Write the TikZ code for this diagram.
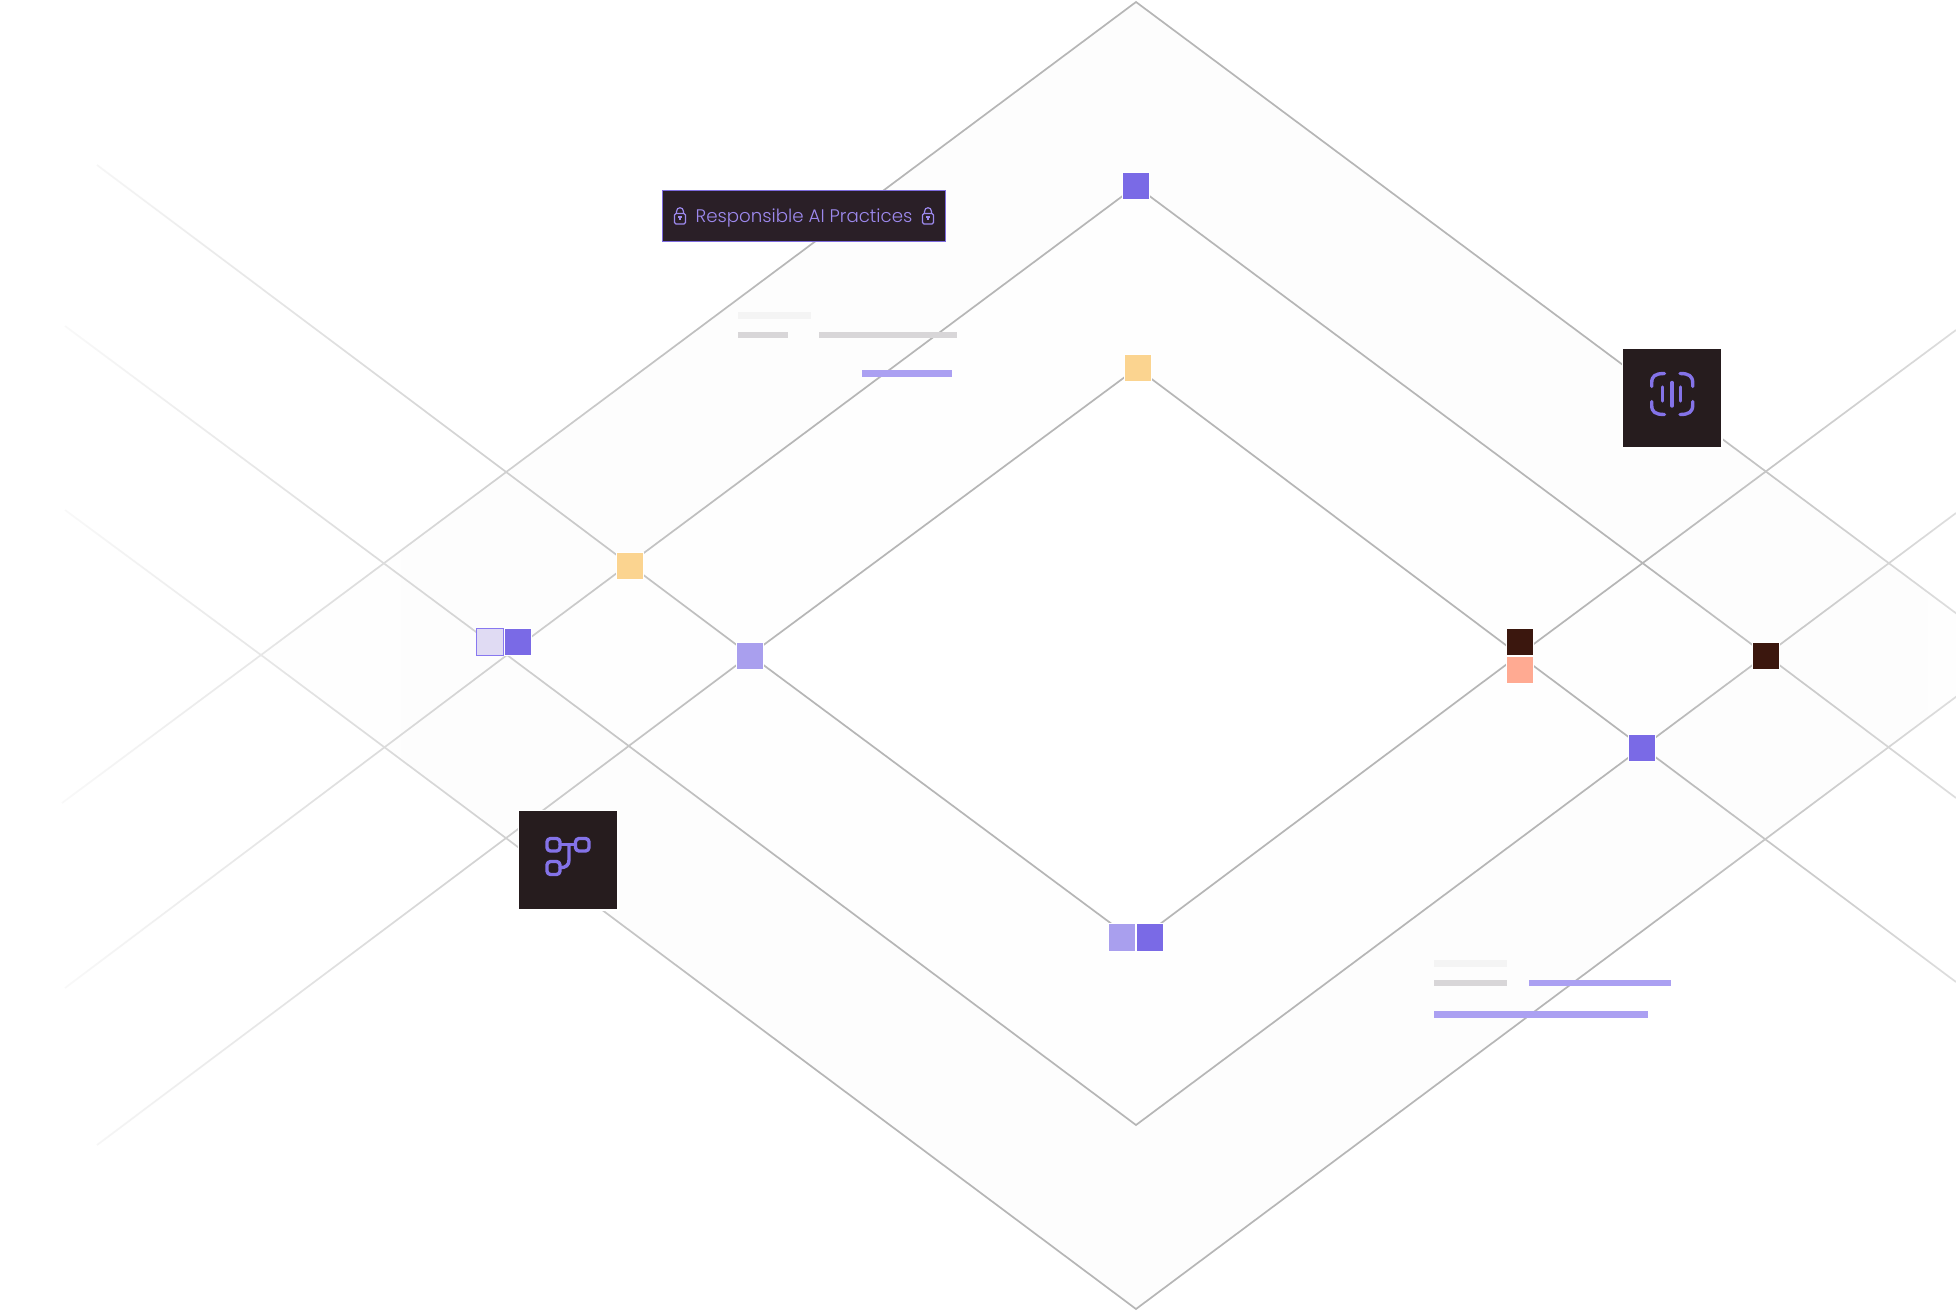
\documentclass[tikz,border=0pt]{standalone}
\usepackage{fontspec}
\setmainfont{Poppins}
\newfontfamily\tagfont{Poppins Light}
\usetikzlibrary{fadings}
\definecolor{lineC}{HTML}{B6B6B6}
\definecolor{ringA}{HTML}{FDFDFD}
\definecolor{ringB}{HTML}{FEFEFE}
\definecolor{iris}{HTML}{7A6AE6}
\definecolor{lav}{HTML}{A99FEE}
\definecolor{pale}{HTML}{E0DBF3}
\definecolor{paleedge}{HTML}{8878F0}
\definecolor{sun}{HTML}{FBD490}
\definecolor{cocoa}{HTML}{3B170E}
\definecolor{salmon}{HTML}{FFAA92}
\definecolor{ink}{HTML}{261C1E}
\definecolor{tagfill}{HTML}{2A1F27}
\definecolor{tagedge}{HTML}{7D6BDE}
\definecolor{tagtext}{HTML}{9D89EE}
\definecolor{glyph}{HTML}{8473E8}
\definecolor{barfaint}{HTML}{F4F4F4}
\definecolor{barmid}{HTML}{D8D6D8}
\definecolor{barlav}{HTML}{ABA0F2}
\tikzfading[name=fromleft,left color=transparent!0,right color=transparent!100]
\tikzfading[name=fromright,left color=transparent!100,right color=transparent!45]
\tikzset{
  grid line/.style={draw=lineC,line width=1.7pt},
  sq/.style={rectangle,minimum size=27.7pt,inner sep=0pt,outer sep=0pt,fill=#1,draw=white,line width=1.2pt},
  iconbox/.style={rectangle,minimum size=99.5pt,inner sep=0pt,outer sep=0pt,fill=ink,draw=white,line width=1.5pt},
  glyph line/.style={draw=glyph,line width=3.4pt,line cap=round,line join=round},
  bar/.style={rectangle,inner sep=0pt,outer sep=0pt,fill=#1},
  lockicon/.pic={
    \draw[draw=#1,line width=1.2pt,rounded corners=1.5pt] (-5.5,-2.5) rectangle (5.5,8);
    \draw[draw=#1,line width=1.2pt] (-3.5,-2.5) -- (-3.5,-4.5) .. controls (-3.5,-9.5) and (3.5,-9.5) .. (3.5,-4.5) -- (3.5,-2.5);
    \draw[draw=#1,line width=1.2pt] (-2,1) -- (2,1);
    \draw[draw=#1,line width=1.4pt] (0,1) -- (0,4);
  },
}
\begin{document}
\begin{tikzpicture}[x=1pt,y=-1pt]
\useasboundingbox (0,0) rectangle (1956,1311);
\clip (0,0) rectangle (1956,1311);
% lattice vertices
\coordinate (oT) at (1136,2);
\coordinate (oB) at (1136,1309);
\coordinate (oR) at (2012,655);
\coordinate (oL) at (261,655);
\coordinate (oLdown) at (62,803);
\coordinate (oLup) at (65,510);
\coordinate (sT) at (1136,186);
\coordinate (sB) at (1136,1125);
\coordinate (sR) at (1766,655);
\coordinate (sL) at (507,655);
\coordinate (sLdown) at (65,988);
\coordinate (sLup) at (65,326);
\coordinate (sRdown) at (1956,798);
\coordinate (sRup) at (1956,513);
\coordinate (tT) at (1137,368);
\coordinate (tB) at (1136,942);
\coordinate (tR) at (1519,655);
\coordinate (tL) at (750,655);
\coordinate (tLdown) at (97,1145);
\coordinate (tLup) at (97,165);
\coordinate (tRdown) at (1956,982);
\coordinate (tRup) at (1956,330);
% ring tints
\fill[ringA] (oT) -- (oR) -- (oB) -- (oL) -- cycle;
\fill[ringB] (sT) -- (sR) -- (sB) -- (sL) -- cycle;
\fill[white] (tT) -- (tR) -- (tB) -- (tL) -- cycle;
% lattice
\draw[grid line] (oLdown) -- (oL) -- (oT) -- (oR);
\draw[grid line] (oLup) -- (oL) -- (oB) -- (oR);
\draw[grid line] (sLdown) -- (sL) -- (sT) -- (sR) -- (sRdown);
\draw[grid line] (sLup) -- (sL) -- (sB) -- (sR) -- (sRup);
\draw[grid line] (tLdown) -- (tL) -- (tT) -- (tR) -- (tRdown);
\draw[grid line] (tLup) -- (tL) -- (tB) -- (tR) -- (tRup);
% edge fades
\fill[white,path fading=fromleft] (0,0) rectangle (800,1311);
\fill[white,path fading=fromright] (1640,0) rectangle (1956,1311);
% redaction bars
\node[bar=barfaint,minimum width=72.5pt,minimum height=6.8pt,anchor=north west] (barA) at (738.3,312) {};
\node[bar=barmid,minimum width=49.5pt,minimum height=6.8pt,anchor=north west] (barB) at (738.3,331.6) {};
\node[bar=barmid,minimum width=138pt,minimum height=6.8pt,anchor=north west] (barC) at (819.3,331.6) {};
\node[bar=barlav,minimum width=90pt,minimum height=7pt,anchor=north west] (barD) at (862,370.3) {};
\node[bar=barfaint,minimum width=72.7pt,minimum height=6.8pt,anchor=north west] (barE) at (1434,960) {};
\node[bar=barmid,minimum width=72.7pt,minimum height=6.8pt,anchor=north west] (barF) at (1434,979.6) {};
\node[bar=barlav,minimum width=141.7pt,minimum height=6.8pt,anchor=north west] (barG) at (1529.3,979.6) {};
\node[bar=barlav,minimum width=214.3pt,minimum height=7pt,anchor=north west] (barH) at (1434,1011.3) {};
% squares
\node[sq=iris] (n1) at (1136,186) {};
\node[sq=sun] (n2) at (1138,368) {};
\node[sq=sun] (n3) at (630,566) {};
\node[sq=pale,draw=paleedge,line width=1pt,minimum size=27pt] (n4) at (490,642) {};
\node[sq=iris] (n5) at (518,642) {};
\node[sq=lav] (n6) at (750,656) {};
\node[sq=cocoa] (n7) at (1520,642) {};
\node[sq=salmon] (n8) at (1520,670) {};
\node[sq=iris] (n9) at (1642,748) {};
\node[sq=cocoa] (n10) at (1766,656) {};
\node[sq=lav] (n11) at (1122,937.6) {};
\node[sq=iris] (n12) at (1150,937.6) {};
% icon tiles
\node[iconbox] (tileR) at (1672,398) {};
\node[iconbox] (tileL) at (568,860) {};
% right glyph
\draw[glyph line] (1651.7,386.5) -- (1651.7,383) .. controls (1651.7,376) and (1655,373.5) .. (1664.5,373.5);
\draw[glyph line] (1680,373.5) .. controls (1689,373.5) and (1692.7,376) .. (1692.7,383) -- (1692.7,386.5);
\draw[glyph line] (1651.7,401.5) -- (1651.7,405) .. controls (1651.7,412) and (1655,414.5) .. (1664.5,414.5);
\draw[glyph line] (1680,414.5) .. controls (1689,414.5) and (1692.7,412) .. (1692.7,405) -- (1692.7,401.5);
\draw[glyph line] (1662.7,387) -- (1662.7,401);
\draw[glyph line] (1672,382.5) -- (1672,406);
\draw[glyph line] (1680.7,387) -- (1680.7,401);
% left glyph
\draw[glyph line,rounded corners=3.5pt] (547,838.5) rectangle (560,851);
\draw[glyph line,rounded corners=3.5pt] (575.5,838.5) rectangle (589,851);
\draw[glyph line,rounded corners=3.5pt] (547,861.5) rectangle (560,874.5);
\draw[glyph line] (560,844.5) -- (575.5,844.5);
\draw[glyph line] (569,844.5) -- (569,860) .. controls (569,865) and (566,867.7) .. (560,867.7);
% tag
\node[rectangle,minimum width=283.4pt,minimum height=51pt,inner sep=0pt,outer sep=0pt,fill=tagfill,draw=tagedge,line width=0.9pt] (tag) at (804,215.8) {};
\node[text=tagtext,inner sep=0pt,font=\tagfont\fontsize{18.2}{20}\selectfont] (taglabel) at (804,218) {Responsible AI Practices};
\pic at (680,216) {lockicon=tagtext};
\pic at (928,216) {lockicon=tagtext};
\end{tikzpicture}
\end{document}
